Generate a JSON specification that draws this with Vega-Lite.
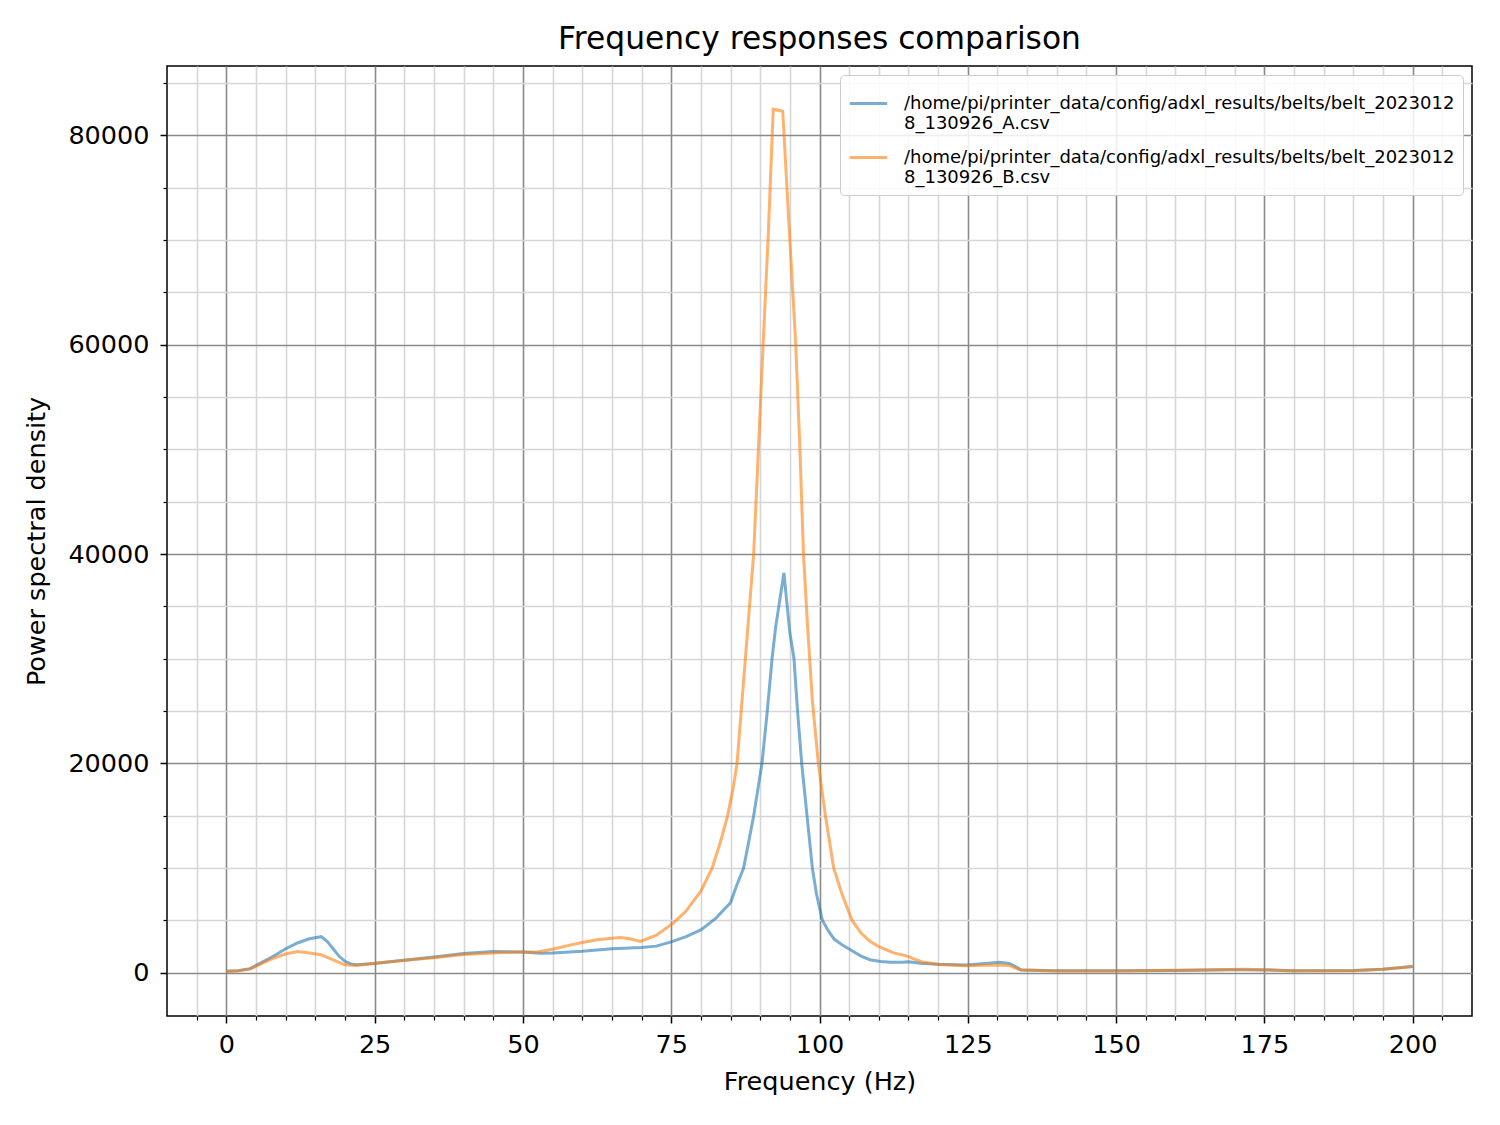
{
  "$schema": "https://vega.github.io/schema/vega-lite/v6.json",
  "width": 1305,
  "height": 950,
  "autosize": {"type": "none"},
  "padding": {"left": 167, "top": 66, "right": 28, "bottom": 109},
  "background": "white",
  "config": {
    "view": {"stroke": "black", "strokeWidth": 1.5},
    "font": "DejaVu Sans"
  },
  "title": {"text": "Frequency responses comparison", "fontSize": 31.3, "font": "DejaVu Sans", "fontWeight": "normal", "color": "black", "baseline": "alphabetic", "offset": -14},
  "datasets": {
    "psd": [
      {"f": 0, "psd": 150, "s": "/home/pi/printer_data/config/adxl_results/belts/belt_20230128_130926_A.csv"},
      {"f": 2, "psd": 200, "s": "/home/pi/printer_data/config/adxl_results/belts/belt_20230128_130926_A.csv"},
      {"f": 4, "psd": 400, "s": "/home/pi/printer_data/config/adxl_results/belts/belt_20230128_130926_A.csv"},
      {"f": 6, "psd": 1000, "s": "/home/pi/printer_data/config/adxl_results/belts/belt_20230128_130926_A.csv"},
      {"f": 8, "psd": 1600, "s": "/home/pi/printer_data/config/adxl_results/belts/belt_20230128_130926_A.csv"},
      {"f": 10, "psd": 2300, "s": "/home/pi/printer_data/config/adxl_results/belts/belt_20230128_130926_A.csv"},
      {"f": 12, "psd": 2850, "s": "/home/pi/printer_data/config/adxl_results/belts/belt_20230128_130926_A.csv"},
      {"f": 14, "psd": 3250, "s": "/home/pi/printer_data/config/adxl_results/belts/belt_20230128_130926_A.csv"},
      {"f": 16, "psd": 3450, "s": "/home/pi/printer_data/config/adxl_results/belts/belt_20230128_130926_A.csv"},
      {"f": 17, "psd": 3000, "s": "/home/pi/printer_data/config/adxl_results/belts/belt_20230128_130926_A.csv"},
      {"f": 18, "psd": 2300, "s": "/home/pi/printer_data/config/adxl_results/belts/belt_20230128_130926_A.csv"},
      {"f": 19, "psd": 1600, "s": "/home/pi/printer_data/config/adxl_results/belts/belt_20230128_130926_A.csv"},
      {"f": 20, "psd": 1100, "s": "/home/pi/printer_data/config/adxl_results/belts/belt_20230128_130926_A.csv"},
      {"f": 21, "psd": 850, "s": "/home/pi/printer_data/config/adxl_results/belts/belt_20230128_130926_A.csv"},
      {"f": 22, "psd": 780, "s": "/home/pi/printer_data/config/adxl_results/belts/belt_20230128_130926_A.csv"},
      {"f": 25, "psd": 900, "s": "/home/pi/printer_data/config/adxl_results/belts/belt_20230128_130926_A.csv"},
      {"f": 30, "psd": 1200, "s": "/home/pi/printer_data/config/adxl_results/belts/belt_20230128_130926_A.csv"},
      {"f": 35, "psd": 1500, "s": "/home/pi/printer_data/config/adxl_results/belts/belt_20230128_130926_A.csv"},
      {"f": 40, "psd": 1850, "s": "/home/pi/printer_data/config/adxl_results/belts/belt_20230128_130926_A.csv"},
      {"f": 45, "psd": 2030, "s": "/home/pi/printer_data/config/adxl_results/belts/belt_20230128_130926_A.csv"},
      {"f": 50, "psd": 2000, "s": "/home/pi/printer_data/config/adxl_results/belts/belt_20230128_130926_A.csv"},
      {"f": 53, "psd": 1880, "s": "/home/pi/printer_data/config/adxl_results/belts/belt_20230128_130926_A.csv"},
      {"f": 55, "psd": 1900, "s": "/home/pi/printer_data/config/adxl_results/belts/belt_20230128_130926_A.csv"},
      {"f": 60, "psd": 2050, "s": "/home/pi/printer_data/config/adxl_results/belts/belt_20230128_130926_A.csv"},
      {"f": 65, "psd": 2300, "s": "/home/pi/printer_data/config/adxl_results/belts/belt_20230128_130926_A.csv"},
      {"f": 70, "psd": 2420, "s": "/home/pi/printer_data/config/adxl_results/belts/belt_20230128_130926_A.csv"},
      {"f": 72.5, "psd": 2550, "s": "/home/pi/printer_data/config/adxl_results/belts/belt_20230128_130926_A.csv"},
      {"f": 75, "psd": 2950, "s": "/home/pi/printer_data/config/adxl_results/belts/belt_20230128_130926_A.csv"},
      {"f": 77.5, "psd": 3450, "s": "/home/pi/printer_data/config/adxl_results/belts/belt_20230128_130926_A.csv"},
      {"f": 80, "psd": 4100, "s": "/home/pi/printer_data/config/adxl_results/belts/belt_20230128_130926_A.csv"},
      {"f": 82.5, "psd": 5200, "s": "/home/pi/printer_data/config/adxl_results/belts/belt_20230128_130926_A.csv"},
      {"f": 85, "psd": 6700, "s": "/home/pi/printer_data/config/adxl_results/belts/belt_20230128_130926_A.csv"},
      {"f": 86, "psd": 8300, "s": "/home/pi/printer_data/config/adxl_results/belts/belt_20230128_130926_A.csv"},
      {"f": 87.2, "psd": 10000, "s": "/home/pi/printer_data/config/adxl_results/belts/belt_20230128_130926_A.csv"},
      {"f": 88, "psd": 12300, "s": "/home/pi/printer_data/config/adxl_results/belts/belt_20230128_130926_A.csv"},
      {"f": 88.9, "psd": 15000, "s": "/home/pi/printer_data/config/adxl_results/belts/belt_20230128_130926_A.csv"},
      {"f": 89.6, "psd": 17500, "s": "/home/pi/printer_data/config/adxl_results/belts/belt_20230128_130926_A.csv"},
      {"f": 90.3, "psd": 20000, "s": "/home/pi/printer_data/config/adxl_results/belts/belt_20230128_130926_A.csv"},
      {"f": 91.2, "psd": 25000, "s": "/home/pi/printer_data/config/adxl_results/belts/belt_20230128_130926_A.csv"},
      {"f": 92, "psd": 30000, "s": "/home/pi/printer_data/config/adxl_results/belts/belt_20230128_130926_A.csv"},
      {"f": 92.6, "psd": 33000, "s": "/home/pi/printer_data/config/adxl_results/belts/belt_20230128_130926_A.csv"},
      {"f": 94, "psd": 38200, "s": "/home/pi/printer_data/config/adxl_results/belts/belt_20230128_130926_A.csv"},
      {"f": 95, "psd": 32500, "s": "/home/pi/printer_data/config/adxl_results/belts/belt_20230128_130926_A.csv"},
      {"f": 95.7, "psd": 30000, "s": "/home/pi/printer_data/config/adxl_results/belts/belt_20230128_130926_A.csv"},
      {"f": 96.3, "psd": 25000, "s": "/home/pi/printer_data/config/adxl_results/belts/belt_20230128_130926_A.csv"},
      {"f": 97, "psd": 20000, "s": "/home/pi/printer_data/config/adxl_results/belts/belt_20230128_130926_A.csv"},
      {"f": 97.9, "psd": 15000, "s": "/home/pi/printer_data/config/adxl_results/belts/belt_20230128_130926_A.csv"},
      {"f": 98.8, "psd": 10000, "s": "/home/pi/printer_data/config/adxl_results/belts/belt_20230128_130926_A.csv"},
      {"f": 99.5, "psd": 7500, "s": "/home/pi/printer_data/config/adxl_results/belts/belt_20230128_130926_A.csv"},
      {"f": 100.5, "psd": 5000, "s": "/home/pi/printer_data/config/adxl_results/belts/belt_20230128_130926_A.csv"},
      {"f": 101.5, "psd": 4000, "s": "/home/pi/printer_data/config/adxl_results/belts/belt_20230128_130926_A.csv"},
      {"f": 102.5, "psd": 3200, "s": "/home/pi/printer_data/config/adxl_results/belts/belt_20230128_130926_A.csv"},
      {"f": 104, "psd": 2600, "s": "/home/pi/printer_data/config/adxl_results/belts/belt_20230128_130926_A.csv"},
      {"f": 105.2, "psd": 2200, "s": "/home/pi/printer_data/config/adxl_results/belts/belt_20230128_130926_A.csv"},
      {"f": 107, "psd": 1600, "s": "/home/pi/printer_data/config/adxl_results/belts/belt_20230128_130926_A.csv"},
      {"f": 108.5, "psd": 1250, "s": "/home/pi/printer_data/config/adxl_results/belts/belt_20230128_130926_A.csv"},
      {"f": 110.3, "psd": 1080, "s": "/home/pi/printer_data/config/adxl_results/belts/belt_20230128_130926_A.csv"},
      {"f": 112, "psd": 1000, "s": "/home/pi/printer_data/config/adxl_results/belts/belt_20230128_130926_A.csv"},
      {"f": 114, "psd": 1000, "s": "/home/pi/printer_data/config/adxl_results/belts/belt_20230128_130926_A.csv"},
      {"f": 115, "psd": 1060, "s": "/home/pi/printer_data/config/adxl_results/belts/belt_20230128_130926_A.csv"},
      {"f": 117, "psd": 920, "s": "/home/pi/printer_data/config/adxl_results/belts/belt_20230128_130926_A.csv"},
      {"f": 120, "psd": 820, "s": "/home/pi/printer_data/config/adxl_results/belts/belt_20230128_130926_A.csv"},
      {"f": 124.7, "psd": 750, "s": "/home/pi/printer_data/config/adxl_results/belts/belt_20230128_130926_A.csv"},
      {"f": 128, "psd": 900, "s": "/home/pi/printer_data/config/adxl_results/belts/belt_20230128_130926_A.csv"},
      {"f": 130.3, "psd": 1000, "s": "/home/pi/printer_data/config/adxl_results/belts/belt_20230128_130926_A.csv"},
      {"f": 132, "psd": 900, "s": "/home/pi/printer_data/config/adxl_results/belts/belt_20230128_130926_A.csv"},
      {"f": 133, "psd": 600, "s": "/home/pi/printer_data/config/adxl_results/belts/belt_20230128_130926_A.csv"},
      {"f": 134, "psd": 280, "s": "/home/pi/printer_data/config/adxl_results/belts/belt_20230128_130926_A.csv"},
      {"f": 140, "psd": 200, "s": "/home/pi/printer_data/config/adxl_results/belts/belt_20230128_130926_A.csv"},
      {"f": 150, "psd": 200, "s": "/home/pi/printer_data/config/adxl_results/belts/belt_20230128_130926_A.csv"},
      {"f": 160, "psd": 220, "s": "/home/pi/printer_data/config/adxl_results/belts/belt_20230128_130926_A.csv"},
      {"f": 170, "psd": 300, "s": "/home/pi/printer_data/config/adxl_results/belts/belt_20230128_130926_A.csv"},
      {"f": 175, "psd": 280, "s": "/home/pi/printer_data/config/adxl_results/belts/belt_20230128_130926_A.csv"},
      {"f": 180, "psd": 200, "s": "/home/pi/printer_data/config/adxl_results/belts/belt_20230128_130926_A.csv"},
      {"f": 190, "psd": 220, "s": "/home/pi/printer_data/config/adxl_results/belts/belt_20230128_130926_A.csv"},
      {"f": 195, "psd": 350, "s": "/home/pi/printer_data/config/adxl_results/belts/belt_20230128_130926_A.csv"},
      {"f": 200, "psd": 600, "s": "/home/pi/printer_data/config/adxl_results/belts/belt_20230128_130926_A.csv"},
      {"f": 0, "psd": 150, "s": "/home/pi/printer_data/config/adxl_results/belts/belt_20230128_130926_B.csv"},
      {"f": 2, "psd": 200, "s": "/home/pi/printer_data/config/adxl_results/belts/belt_20230128_130926_B.csv"},
      {"f": 4, "psd": 350, "s": "/home/pi/printer_data/config/adxl_results/belts/belt_20230128_130926_B.csv"},
      {"f": 6, "psd": 900, "s": "/home/pi/printer_data/config/adxl_results/belts/belt_20230128_130926_B.csv"},
      {"f": 8, "psd": 1400, "s": "/home/pi/printer_data/config/adxl_results/belts/belt_20230128_130926_B.csv"},
      {"f": 10, "psd": 1800, "s": "/home/pi/printer_data/config/adxl_results/belts/belt_20230128_130926_B.csv"},
      {"f": 12, "psd": 2030, "s": "/home/pi/printer_data/config/adxl_results/belts/belt_20230128_130926_B.csv"},
      {"f": 14, "psd": 1900, "s": "/home/pi/printer_data/config/adxl_results/belts/belt_20230128_130926_B.csv"},
      {"f": 16, "psd": 1720, "s": "/home/pi/printer_data/config/adxl_results/belts/belt_20230128_130926_B.csv"},
      {"f": 18, "psd": 1240, "s": "/home/pi/printer_data/config/adxl_results/belts/belt_20230128_130926_B.csv"},
      {"f": 20, "psd": 760, "s": "/home/pi/printer_data/config/adxl_results/belts/belt_20230128_130926_B.csv"},
      {"f": 22, "psd": 700, "s": "/home/pi/printer_data/config/adxl_results/belts/belt_20230128_130926_B.csv"},
      {"f": 25, "psd": 920, "s": "/home/pi/printer_data/config/adxl_results/belts/belt_20230128_130926_B.csv"},
      {"f": 30, "psd": 1200, "s": "/home/pi/printer_data/config/adxl_results/belts/belt_20230128_130926_B.csv"},
      {"f": 35, "psd": 1450, "s": "/home/pi/printer_data/config/adxl_results/belts/belt_20230128_130926_B.csv"},
      {"f": 40, "psd": 1750, "s": "/home/pi/printer_data/config/adxl_results/belts/belt_20230128_130926_B.csv"},
      {"f": 45, "psd": 1900, "s": "/home/pi/printer_data/config/adxl_results/belts/belt_20230128_130926_B.csv"},
      {"f": 50, "psd": 2000, "s": "/home/pi/printer_data/config/adxl_results/belts/belt_20230128_130926_B.csv"},
      {"f": 52.4, "psd": 2000, "s": "/home/pi/printer_data/config/adxl_results/belts/belt_20230128_130926_B.csv"},
      {"f": 55, "psd": 2250, "s": "/home/pi/printer_data/config/adxl_results/belts/belt_20230128_130926_B.csv"},
      {"f": 57.5, "psd": 2600, "s": "/home/pi/printer_data/config/adxl_results/belts/belt_20230128_130926_B.csv"},
      {"f": 60, "psd": 2900, "s": "/home/pi/printer_data/config/adxl_results/belts/belt_20230128_130926_B.csv"},
      {"f": 62.5, "psd": 3150, "s": "/home/pi/printer_data/config/adxl_results/belts/belt_20230128_130926_B.csv"},
      {"f": 65, "psd": 3300, "s": "/home/pi/printer_data/config/adxl_results/belts/belt_20230128_130926_B.csv"},
      {"f": 66.4, "psd": 3370, "s": "/home/pi/printer_data/config/adxl_results/belts/belt_20230128_130926_B.csv"},
      {"f": 68, "psd": 3250, "s": "/home/pi/printer_data/config/adxl_results/belts/belt_20230128_130926_B.csv"},
      {"f": 69.8, "psd": 2990, "s": "/home/pi/printer_data/config/adxl_results/belts/belt_20230128_130926_B.csv"},
      {"f": 72.5, "psd": 3600, "s": "/home/pi/printer_data/config/adxl_results/belts/belt_20230128_130926_B.csv"},
      {"f": 75.4, "psd": 4770, "s": "/home/pi/printer_data/config/adxl_results/belts/belt_20230128_130926_B.csv"},
      {"f": 77.5, "psd": 5900, "s": "/home/pi/printer_data/config/adxl_results/belts/belt_20230128_130926_B.csv"},
      {"f": 80, "psd": 7800, "s": "/home/pi/printer_data/config/adxl_results/belts/belt_20230128_130926_B.csv"},
      {"f": 81.9, "psd": 10000, "s": "/home/pi/printer_data/config/adxl_results/belts/belt_20230128_130926_B.csv"},
      {"f": 83.3, "psd": 12500, "s": "/home/pi/printer_data/config/adxl_results/belts/belt_20230128_130926_B.csv"},
      {"f": 84.5, "psd": 15000, "s": "/home/pi/printer_data/config/adxl_results/belts/belt_20230128_130926_B.csv"},
      {"f": 85.4, "psd": 17500, "s": "/home/pi/printer_data/config/adxl_results/belts/belt_20230128_130926_B.csv"},
      {"f": 86.1, "psd": 20000, "s": "/home/pi/printer_data/config/adxl_results/belts/belt_20230128_130926_B.csv"},
      {"f": 87.5, "psd": 30000, "s": "/home/pi/printer_data/config/adxl_results/belts/belt_20230128_130926_B.csv"},
      {"f": 88.9, "psd": 40000, "s": "/home/pi/printer_data/config/adxl_results/belts/belt_20230128_130926_B.csv"},
      {"f": 89.7, "psd": 50000, "s": "/home/pi/printer_data/config/adxl_results/belts/belt_20230128_130926_B.csv"},
      {"f": 90.5, "psd": 60000, "s": "/home/pi/printer_data/config/adxl_results/belts/belt_20230128_130926_B.csv"},
      {"f": 91.4, "psd": 71000, "s": "/home/pi/printer_data/config/adxl_results/belts/belt_20230128_130926_B.csv"},
      {"f": 92.2, "psd": 82500, "s": "/home/pi/printer_data/config/adxl_results/belts/belt_20230128_130926_B.csv"},
      {"f": 93.8, "psd": 82300, "s": "/home/pi/printer_data/config/adxl_results/belts/belt_20230128_130926_B.csv"},
      {"f": 95, "psd": 70000, "s": "/home/pi/printer_data/config/adxl_results/belts/belt_20230128_130926_B.csv"},
      {"f": 96, "psd": 60000, "s": "/home/pi/printer_data/config/adxl_results/belts/belt_20230128_130926_B.csv"},
      {"f": 96.7, "psd": 50000, "s": "/home/pi/printer_data/config/adxl_results/belts/belt_20230128_130926_B.csv"},
      {"f": 97.3, "psd": 40000, "s": "/home/pi/printer_data/config/adxl_results/belts/belt_20230128_130926_B.csv"},
      {"f": 98, "psd": 33000, "s": "/home/pi/printer_data/config/adxl_results/belts/belt_20230128_130926_B.csv"},
      {"f": 98.8, "psd": 26000, "s": "/home/pi/printer_data/config/adxl_results/belts/belt_20230128_130926_B.csv"},
      {"f": 99.8, "psd": 20000, "s": "/home/pi/printer_data/config/adxl_results/belts/belt_20230128_130926_B.csv"},
      {"f": 101, "psd": 15000, "s": "/home/pi/printer_data/config/adxl_results/belts/belt_20230128_130926_B.csv"},
      {"f": 102.4, "psd": 10000, "s": "/home/pi/printer_data/config/adxl_results/belts/belt_20230128_130926_B.csv"},
      {"f": 103.8, "psd": 7500, "s": "/home/pi/printer_data/config/adxl_results/belts/belt_20230128_130926_B.csv"},
      {"f": 105.5, "psd": 5000, "s": "/home/pi/printer_data/config/adxl_results/belts/belt_20230128_130926_B.csv"},
      {"f": 107, "psd": 3800, "s": "/home/pi/printer_data/config/adxl_results/belts/belt_20230128_130926_B.csv"},
      {"f": 108.5, "psd": 3000, "s": "/home/pi/printer_data/config/adxl_results/belts/belt_20230128_130926_B.csv"},
      {"f": 110, "psd": 2500, "s": "/home/pi/printer_data/config/adxl_results/belts/belt_20230128_130926_B.csv"},
      {"f": 112.5, "psd": 1900, "s": "/home/pi/printer_data/config/adxl_results/belts/belt_20230128_130926_B.csv"},
      {"f": 114.8, "psd": 1600, "s": "/home/pi/printer_data/config/adxl_results/belts/belt_20230128_130926_B.csv"},
      {"f": 116, "psd": 1300, "s": "/home/pi/printer_data/config/adxl_results/belts/belt_20230128_130926_B.csv"},
      {"f": 117.2, "psd": 1060, "s": "/home/pi/printer_data/config/adxl_results/belts/belt_20230128_130926_B.csv"},
      {"f": 120, "psd": 800, "s": "/home/pi/printer_data/config/adxl_results/belts/belt_20230128_130926_B.csv"},
      {"f": 124.7, "psd": 670, "s": "/home/pi/printer_data/config/adxl_results/belts/belt_20230128_130926_B.csv"},
      {"f": 128, "psd": 720, "s": "/home/pi/printer_data/config/adxl_results/belts/belt_20230128_130926_B.csv"},
      {"f": 130.3, "psd": 740, "s": "/home/pi/printer_data/config/adxl_results/belts/belt_20230128_130926_B.csv"},
      {"f": 132, "psd": 700, "s": "/home/pi/printer_data/config/adxl_results/belts/belt_20230128_130926_B.csv"},
      {"f": 133, "psd": 450, "s": "/home/pi/printer_data/config/adxl_results/belts/belt_20230128_130926_B.csv"},
      {"f": 134, "psd": 260, "s": "/home/pi/printer_data/config/adxl_results/belts/belt_20230128_130926_B.csv"},
      {"f": 140, "psd": 180, "s": "/home/pi/printer_data/config/adxl_results/belts/belt_20230128_130926_B.csv"},
      {"f": 150, "psd": 180, "s": "/home/pi/printer_data/config/adxl_results/belts/belt_20230128_130926_B.csv"},
      {"f": 160, "psd": 250, "s": "/home/pi/printer_data/config/adxl_results/belts/belt_20230128_130926_B.csv"},
      {"f": 171.6, "psd": 350, "s": "/home/pi/printer_data/config/adxl_results/belts/belt_20230128_130926_B.csv"},
      {"f": 175, "psd": 300, "s": "/home/pi/printer_data/config/adxl_results/belts/belt_20230128_130926_B.csv"},
      {"f": 179, "psd": 190, "s": "/home/pi/printer_data/config/adxl_results/belts/belt_20230128_130926_B.csv"},
      {"f": 190, "psd": 190, "s": "/home/pi/printer_data/config/adxl_results/belts/belt_20230128_130926_B.csv"},
      {"f": 195, "psd": 350, "s": "/home/pi/printer_data/config/adxl_results/belts/belt_20230128_130926_B.csv"},
      {"f": 200, "psd": 600, "s": "/home/pi/printer_data/config/adxl_results/belts/belt_20230128_130926_B.csv"}
    ]
  },
  "data": {"name": "psd"},
  "layer": [
    {
      "mark": {"type": "line", "strokeOpacity": 0, "strokeWidth": 0.1},
      "encoding": {
        "x": {"field": "f", "type": "quantitative",
          "scale": {"domain": [-10, 210], "nice": false, "zero": false},
          "axis": {"orient": "bottom", "values": [-5, 5, 10, 15, 20, 30, 35, 40, 45, 55, 60, 65, 70, 80, 85, 90, 95, 105, 110, 115, 120, 130, 135, 140, 145, 155, 160, 165, 170, 180, 185, 190, 195, 205],
            "labels": false, "title": null, "domain": false, "ticks": true, "tickSize": 4, "tickWidth": 1.2, "tickColor": "black",
            "grid": true, "gridColor": "#d6d6d6", "gridWidth": 1.6}},
        "y": {"field": "psd", "type": "quantitative",
          "scale": {"domain": [-4125, 86625], "nice": false, "zero": false},
          "axis": {"orient": "left", "values": [5000, 10000, 15000, 25000, 30000, 35000, 45000, 50000, 55000, 65000, 70000, 75000, 85000],
            "labels": false, "title": null, "domain": false, "ticks": true, "tickSize": 4, "tickWidth": 1.2, "tickColor": "black",
            "grid": true, "gridColor": "#d6d6d6", "gridWidth": 1.6}},
        "detail": {"field": "s", "type": "nominal"}
      }
    },
    {
      "mark": {"type": "line", "strokeWidth": 3, "opacity": 0.6},
      "encoding": {
        "x": {"field": "f", "type": "quantitative",
          "scale": {"domain": [-10, 210], "nice": false, "zero": false},
          "axis": {"orient": "bottom", "values": [0, 25, 50, 75, 100, 125, 150, 175, 200],
            "title": "Frequency (Hz)", "titleFontSize": 25.5, "titleFontWeight": "normal", "titleColor": "black", "titlePadding": 12, "titleFont": "DejaVu Sans",
            "labelFontSize": 25.5, "labelColor": "black", "labelPadding": 9, "labelFont": "DejaVu Sans",
            "domain": false, "ticks": true, "tickSize": 7, "tickWidth": 1.5, "tickColor": "black",
            "grid": true, "gridColor": "#8a8a8a", "gridWidth": 1.6}},
        "y": {"field": "psd", "type": "quantitative",
          "scale": {"domain": [-4125, 86625], "nice": false, "zero": false},
          "axis": {"orient": "left", "values": [0, 20000, 40000, 60000, 80000], "format": "d",
            "title": "Power spectral density", "titleFontSize": 25.5, "titleFontWeight": "normal", "titleColor": "black", "titlePadding": 18, "titleFont": "DejaVu Sans",
            "labelFontSize": 25.5, "labelColor": "black", "labelPadding": 11, "labelFont": "DejaVu Sans",
            "domain": false, "ticks": true, "tickSize": 7, "tickWidth": 1.5, "tickColor": "black",
            "grid": true, "gridColor": "#8a8a8a", "gridWidth": 1.6}},
        "color": {"field": "s", "type": "nominal",
          "scale": {"domain": ["/home/pi/printer_data/config/adxl_results/belts/belt_20230128_130926_A.csv", "/home/pi/printer_data/config/adxl_results/belts/belt_20230128_130926_B.csv"], "range": ["#1f77b4", "#ff7f0e"]},
          "legend": {"orient": "top-right", "offset": 9, "title": null,
            "labelExpr": "[substring(datum.label, 0, 60), substring(datum.label, 60)]",
            "labelFontSize": 18, "labelFont": "DejaVu Sans", "labelColor": "black", "labelLimit": 800, "labelOffset": 15,
            "symbolType": "stroke", "symbolSize": 1400, "symbolStrokeWidth": 3, "symbolOpacity": 0.6,
            "rowPadding": 4, "padding": 8,
            "fillColor": "rgba(255,255,255,0.85)", "strokeColor": "#cccccc", "cornerRadius": 4}}
      }
    }
  ],
  "resolve": {"axis": {"x": "independent", "y": "independent"}}
}
